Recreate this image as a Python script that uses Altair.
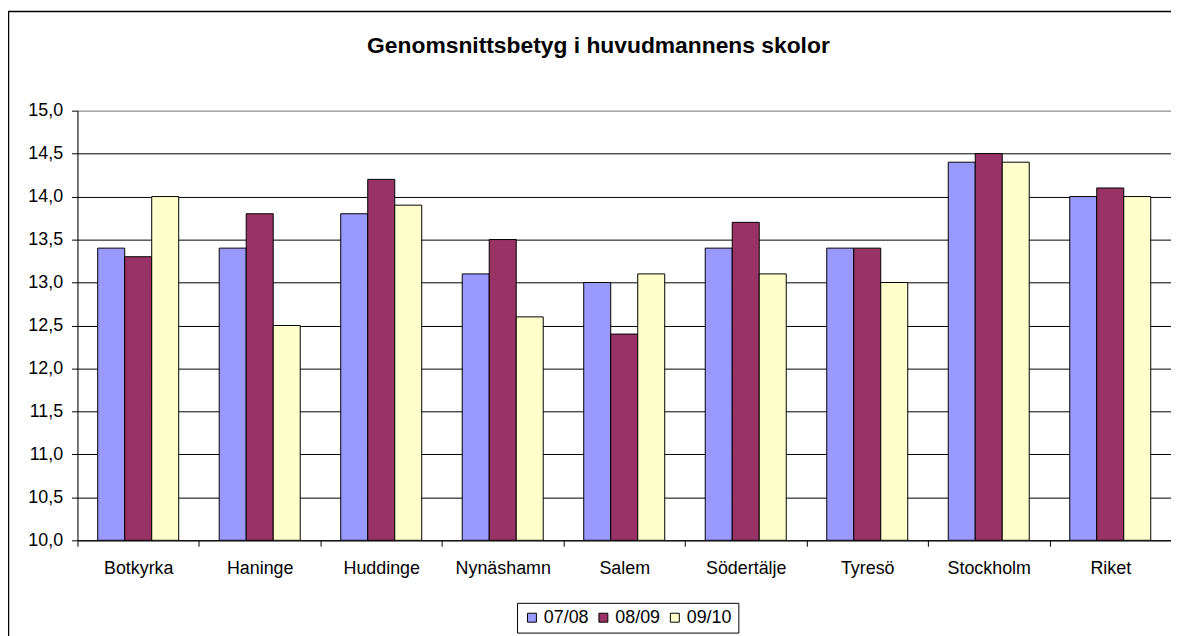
import altair as alt
import pandas as pd

categories = ["Botkyrka", "Haninge", "Huddinge", "Nynäshamn", "Salem",
              "Södertälje", "Tyresö", "Stockholm", "Riket"]
series = ["07/08", "08/09", "09/10"]
v0708 = [13.4, 13.4, 13.8, 13.1, 13.0, 13.4, 13.4, 14.4, 14.0]
v0809 = [13.3, 13.8, 14.2, 13.5, 12.4, 13.7, 13.4, 14.5, 14.1]
v0910 = [14.0, 12.5, 13.9, 12.6, 13.1, 13.1, 13.0, 14.4, 14.0]
colors = ["#9999FF", "#993366", "#FFFFCC"]
y_ticks = [10.0, 10.5, 11.0, 11.5, 12.0, 12.5, 13.0, 13.5, 14.0, 14.5, 15.0]
title_text = "Genomsnittsbetyg i huvudmannens skolor"

rows = []
for s, vals in zip(series, [v0708, v0809, v0910]):
    for c, v in zip(categories, vals):
        rows.append({"kommun": c, "period": s, "betyg": v})
df = pd.DataFrame(rows)

FONT = "Liberation Sans"
W, H = 1102, 433
LBL = 18

bars = alt.Chart(df).mark_bar(stroke="black", strokeWidth=1, clip=True).encode(
    x=alt.X("kommun:N", sort=categories, title=None,
            scale=alt.Scale(paddingInner=0, paddingOuter=0),
            axis=alt.Axis(labelAngle=0, tickBand="extent", labelFontSize=LBL,
                          labelFont=FONT, labelColor="black", domainColor="black",
                          tickColor="black", tickSize=6, labelPadding=13,
                          grid=False)),
    xOffset=alt.XOffset("period:N", sort=series,
                        scale=alt.Scale(paddingInner=0, paddingOuter=0.75)),
    y=alt.Y("betyg:Q", title=None,
            scale=alt.Scale(domain=[10, 15], zero=False, nice=False),
            axis=alt.Axis(values=y_ticks,
                          labelExpr="replace(format(datum.value, '.1f'), '.', ',')",
                          labelFontSize=LBL, labelFont=FONT, labelColor="black",
                          domainColor="black", tickColor="black", tickSize=6,
                          labelPadding=9,
                          gridColor={"condition": {"test": "datum.value >= 15", "value": "#808080"},
                                     "value": "black"},
                          gridWidth=1)),
    y2=alt.datum(10),
    fill=alt.Fill("period:N", sort=series,
                  scale=alt.Scale(domain=series, range=colors),
                  legend=alt.Legend(title=None, orient="none", legendX=443, legendY=496,
                                    direction="horizontal", symbolType="square",
                                    symbolSize=81, symbolStrokeColor="black",
                                    symbolStrokeWidth=1, labelFontSize=LBL,
                                    labelFont=FONT, labelColor="black",
                                    strokeColor="black", fillColor="white",
                                    padding=6, labelOffset=3, columnPadding=5)),
)

border = alt.Chart(alt.Data(values=[{}])).mark_rect(
    fill=None, stroke="black", strokeWidth=1.5, clip=False
).encode(
    x=alt.value(-69.5), x2=alt.value(1130), y=alt.value(-100), y2=alt.value(560)
)

title = alt.Chart(alt.Data(values=[{"t": title_text}])).mark_text(
    font=FONT, fontSize=23, fontWeight="bold", color="black",
    align="center", baseline="alphabetic", clip=False
).encode(
    text="t:N", x=alt.value(525), y=alt.value(-58)
)

chart = alt.layer(border, bars, title).properties(
    width=W, height=H,
    autosize=alt.AutoSizeParams(type="none"),
    padding={"left": 70, "top": 101, "right": 0, "bottom": 94},
).configure_view(stroke="#808080", strokeWidth=1).configure(background="white")

chart.save("out.html", embed_options={"renderer": "svg", "actions": False})
